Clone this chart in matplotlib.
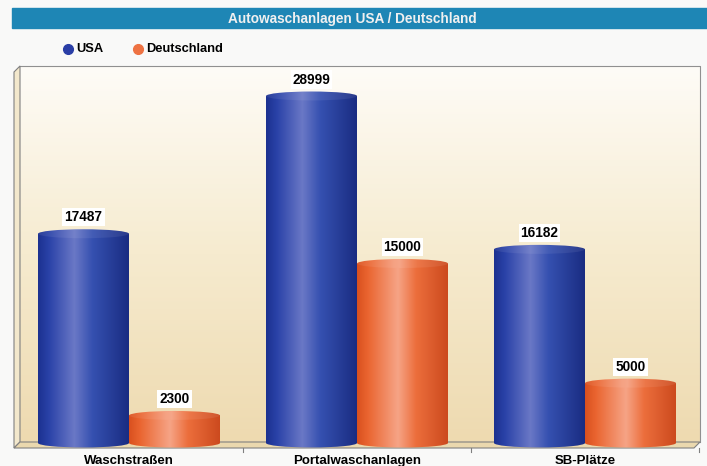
import numpy as np
import matplotlib
matplotlib.use("Agg")
from matplotlib import pyplot as plt
from matplotlib.colors import LinearSegmentedColormap
from matplotlib.patches import Rectangle, Ellipse, Polygon

# data
categories = ["Waschstraßen", "Portalwaschanlagen", "SB-Plätze"]
usa = [17487, 28999, 16182]
deutschland = [2300, 15000, 5000]
series_names = ["USA", "Deutschland"]
title = "Autowaschanlagen USA / Deutschland"

plt.rcParams['font.family'] = ['Liberation Sans', 'DejaVu Sans']

W, H = 707, 466
fig = plt.figure(figsize=(W / 100, H / 100), dpi=100)
fig.patch.set_facecolor("#f9f9f8")

# background layer in pixel coordinates (title bar, legend, 3d box)
bg = fig.add_axes([0, 0, 1, 1])
bg.set_xlim(0, W)
bg.set_ylim(H, 0)
bg.axis("off")

bg.add_patch(Rectangle((12, 8), W - 12, 20, color="#1e86b5", zorder=1))
bg.text(352, 18.5, title, color="#f0f0f0", fontsize=9.8, fontweight="bold",
        ha="center", va="center", zorder=2)

# back wall with vertical gradient
wall = np.linspace(0, 1, 200).reshape(-1, 1)
wall_cmap = LinearSegmentedColormap.from_list("wall", ["#fefcf7", "#f6ebcf", "#eedab0"])
bg.imshow(wall, cmap=wall_cmap, extent=(20, 700, 442, 66), aspect="auto", zorder=1)
bg.plot([20, 700, 700], [66, 66, 442], color="#909090", lw=0.8, zorder=2)
bg.add_patch(Polygon([(20, 66), (14, 72), (14, 448), (20, 442)], closed=True,
                     facecolor="#f3e8cc", edgecolor="#808080", lw=0.8, zorder=2))
bg.add_patch(Polygon([(20, 442), (700, 442), (694, 448), (14, 448)], closed=True,
                     facecolor="#ead8ae", edgecolor="#808080", lw=0.8, zorder=2))
for tx in (243, 471, 699):
    bg.plot([tx, tx], [448, 452], color="#808080", lw=0.8, zorder=2)

# legend
leg_colors = ["#2a3ea6", "#ee7242"]
for name, col, lx in zip(series_names, leg_colors, (68, 138)):
    bg.plot([lx], [49], "o", ms=7, color=col, zorder=3)
    bg.text(lx + 8, 49.5, name, fontsize=9.3, fontweight="bold", va="center", zorder=3)

# data axes placed over the box
px_left, px_right, px_top, px_bottom = 14, 702, 66, 452
zero_px, c0_px, step_px = 443, 129, 228
ax = fig.add_axes([px_left / W, 1 - px_bottom / H,
                   (px_right - px_left) / W, (px_bottom - px_top) / H])
ax.set_facecolor("none")
k = (zero_px - 96) / max(usa)  # pixels per unit
upp = 1 / k

blue_cmap = LinearSegmentedColormap.from_list(
    "b", [(0, "#1c3190"), (0.12, "#2a42a8"), (0.4, "#6a78c6"), (0.6, "#3550b0"), (1, "#1a2c82")])
orange_cmap = LinearSegmentedColormap.from_list(
    "o", [(0, "#d9501f"), (0.12, "#ea6530"), (0.45, "#f6a486"), (0.65, "#ec6e3c"), (1, "#cc4a1e")])


def lighter(cmap, f):
    cols = [tuple(np.array(cmap(t)[:3]) * (1 - f) + f) for t in np.linspace(0, 1, 16)]
    return LinearSegmentedColormap.from_list(cmap.name + "_top", cols)


def cylinder(ax, xc, w, v, cmap, eh):
    x0, x1 = xc - w / 2, xc + w / 2
    grad = np.linspace(0, 1, 256).reshape(1, -1)
    body = Rectangle((x0, 0), w, v, facecolor="none", edgecolor="none")
    base = Ellipse((xc, 0), w, eh, facecolor="none", edgecolor="none")
    for clip in (body, base):
        ax.add_patch(clip)
        im = ax.imshow(grad, cmap=cmap, extent=(x0, x1, -eh, v), aspect="auto",
                       origin="lower", zorder=2)
        im.set_clip_path(clip)
    top = Ellipse((xc, v), w, eh, facecolor="none", edgecolor="none")
    ax.add_patch(top)
    im = ax.imshow(grad, cmap=lighter(cmap, 0.07), extent=(x0, x1, v - eh, v + eh),
                   aspect="auto", origin="lower", zorder=3)
    im.set_clip_path(top)


bw = 91 / step_px
eh = 9 * upp
for i, (u, d) in enumerate(zip(usa, deutschland)):
    for v, cm, off in ((u, blue_cmap, -bw / 2), (d, orange_cmap, bw / 2)):
        cylinder(ax, i + off, bw, v, cm, eh)
        ax.text(i + off, v + eh / 2 + 5 * upp, str(v), ha="center", va="bottom",
                fontsize=9.8, fontweight="bold", zorder=5,
                bbox=dict(boxstyle="square,pad=0.15", fc="white", ec="none"))

ax.set_xlim(-(c0_px - px_left) / step_px, (px_right - c0_px) / step_px)
ax.set_ylim(-(px_bottom - zero_px) / k, (zero_px - px_top) / k)
ax.set_xticks(range(len(categories)), categories, fontsize=9.5, fontweight="bold")
ax.tick_params(axis="x", length=0, pad=2)
ax.set_yticks([])
for s in ax.spines.values():
    s.set_visible(False)

fig.savefig("out.png", dpi=100, facecolor=fig.get_facecolor())
